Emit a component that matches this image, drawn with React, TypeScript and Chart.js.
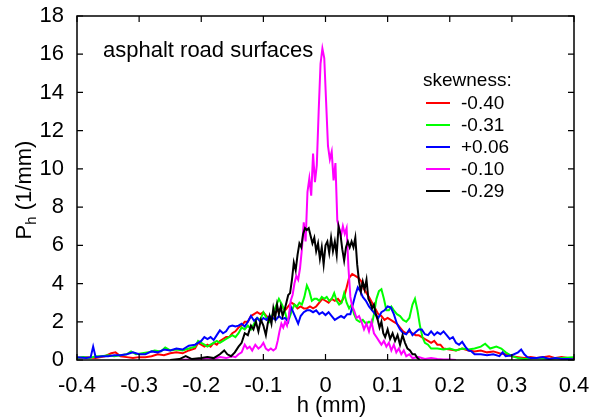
import React, { useEffect, useRef } from "react";
import { Chart, registerables } from "chart.js";

Chart.register(...registerables);

const FONT = '"Liberation Sans", Arial, Helvetica, sans-serif';

// Height distributions P_h(h) of five asphalt samples, as [h (mm), P_h (1/mm)] pairs.
const RED: [number, number][] = [
  [-0.4, 0.1], [-0.385, 0.15], [-0.37, 0.1], [-0.355, 0.2], [-0.345, 0.35], [-0.338, 0.4], [-0.33, 0.2],
  [-0.32, 0.15], [-0.31, 0.1], [-0.3, 0.15], [-0.29, 0.15], [-0.28, 0.2], [-0.27, 0.3], [-0.26, 0.25],
  [-0.25, 0.35], [-0.24, 0.4], [-0.23, 0.35], [-0.22, 0.5], [-0.21, 0.6], [-0.205, 0.9], [-0.2, 0.8],
  [-0.195, 0.7], [-0.19, 0.8], [-0.185, 0.7], [-0.18, 0.9], [-0.175, 0.8], [-0.17, 1.0], [-0.165, 1.1],
  [-0.16, 1.2], [-0.155, 1.2], [-0.15, 1.4], [-0.145, 1.5], [-0.14, 1.7], [-0.135, 1.8], [-0.13, 2.0],
  [-0.125, 2.0], [-0.12, 2.3], [-0.115, 2.4], [-0.11, 2.5], [-0.105, 2.4], [-0.1, 2.5], [-0.095, 2.3],
  [-0.09, 2.2], [-0.085, 2.3], [-0.08, 2.5], [-0.075, 2.6], [-0.07, 2.8], [-0.065, 2.6], [-0.06, 2.8],
  [-0.055, 3.0], [-0.05, 2.9], [-0.045, 2.7], [-0.04, 2.8], [-0.035, 2.7], [-0.03, 2.7], [-0.025, 2.8],
  [-0.02, 2.7], [-0.015, 2.8], [-0.01, 3.0], [-0.005, 3.2], [0, 3.1], [0.005, 3.0], [0.01, 3.2],
  [0.015, 3.1], [0.02, 3.2], [0.025, 3.0], [0.03, 3.3], [0.034, 3.8], [0.038, 4.3], [0.043, 4.5],
  [0.048, 4.4], [0.053, 4.3], [0.058, 4.1], [0.062, 3.7], [0.066, 3.5], [0.07, 3.3], [0.075, 3.0],
  [0.08, 2.7], [0.085, 2.4], [0.09, 2.3], [0.095, 2.1], [0.1, 2.2], [0.105, 2.1], [0.11, 2.0],
  [0.115, 1.9], [0.12, 1.7], [0.125, 1.5], [0.13, 1.4], [0.135, 1.5], [0.14, 1.4], [0.145, 1.3],
  [0.15, 1.3], [0.155, 1.2], [0.16, 1.1], [0.165, 1.0], [0.17, 0.9], [0.175, 1.0], [0.18, 0.8],
  [0.185, 0.8], [0.19, 0.6], [0.2, 0.55], [0.21, 0.5], [0.22, 0.6], [0.23, 0.5], [0.24, 0.45],
  [0.25, 0.5], [0.26, 0.4], [0.27, 0.45], [0.28, 0.35], [0.29, 0.3], [0.3, 0.2], [0.31, 0.15],
  [0.32, 0.1], [0.33, 0.15], [0.34, 0.1], [0.35, 0.15], [0.36, 0.2], [0.37, 0.1], [0.38, 0.15],
  [0.39, 0.1], [0.4, 0.05],
];

const GREEN: [number, number][] = [
  [-0.4, 0.1], [-0.39, 0.15], [-0.38, 0.1], [-0.37, 0.2], [-0.36, 0.2], [-0.35, 0.25], [-0.34, 0.2],
  [-0.33, 0.25], [-0.32, 0.3], [-0.313, 0.45], [-0.305, 0.3], [-0.295, 0.35], [-0.285, 0.4],
  [-0.275, 0.5], [-0.265, 0.45], [-0.258, 0.65], [-0.25, 0.5], [-0.24, 0.55], [-0.23, 0.5],
  [-0.22, 0.6], [-0.21, 0.7], [-0.205, 1.0], [-0.2, 0.9], [-0.195, 0.8], [-0.19, 0.7], [-0.185, 0.8],
  [-0.18, 0.9], [-0.175, 1.0], [-0.17, 0.9], [-0.165, 1.0], [-0.16, 1.1], [-0.155, 1.2], [-0.15, 1.3],
  [-0.145, 1.2], [-0.14, 1.4], [-0.135, 1.7], [-0.13, 1.6], [-0.125, 1.8], [-0.12, 1.6], [-0.115, 1.9],
  [-0.11, 2.2], [-0.105, 2.1], [-0.1, 2.5], [-0.095, 2.2], [-0.09, 2.0], [-0.085, 2.4], [-0.08, 2.8],
  [-0.075, 3.2], [-0.07, 2.9], [-0.065, 2.5], [-0.062, 2.1], [-0.058, 2.2], [-0.054, 2.6], [-0.05, 2.9],
  [-0.046, 2.8], [-0.042, 3.0], [-0.038, 2.9], [-0.034, 3.3], [-0.03, 3.9], [-0.026, 3.6], [-0.022, 3.1],
  [-0.018, 3.2], [-0.014, 3.2], [-0.01, 3.1], [-0.006, 3.3], [-0.002, 3.2], [0.002, 3.3], [0.006, 3.1],
  [0.01, 3.2], [0.014, 3.5], [0.018, 3.1], [0.022, 2.9], [0.026, 3.0], [0.03, 3.5], [0.034, 3.0],
  [0.038, 2.7], [0.042, 2.9], [0.046, 2.4], [0.05, 2.1], [0.055, 2.0], [0.06, 2.1], [0.065, 1.9],
  [0.07, 2.0], [0.075, 1.9], [0.078, 2.4], [0.082, 3.2], [0.086, 3.6], [0.09, 3.7], [0.094, 3.2],
  [0.098, 2.6], [0.102, 2.6], [0.106, 2.8], [0.11, 2.6], [0.115, 2.4], [0.12, 2.3], [0.125, 2.1],
  [0.13, 2.0], [0.135, 2.2], [0.14, 2.9], [0.144, 3.2], [0.148, 2.6], [0.152, 1.8], [0.156, 1.2],
  [0.16, 0.9], [0.165, 0.8], [0.17, 0.6], [0.18, 0.6], [0.19, 0.55], [0.2, 0.6], [0.21, 0.5],
  [0.22, 0.6], [0.23, 0.55], [0.24, 0.6], [0.25, 0.7], [0.257, 0.85], [0.265, 0.6], [0.275, 0.7],
  [0.283, 0.6], [0.29, 0.4], [0.3, 0.2], [0.31, 0.1], [0.32, 0.05], [0.34, 0.1], [0.36, 0.05],
  [0.38, 0.1], [0.4, 0.15],
];

const BLUE: [number, number][] = [
  [-0.4, 0.15], [-0.385, 0.1], [-0.378, 0.15], [-0.374, 0.7], [-0.37, 0.15], [-0.36, 0.2], [-0.35, 0.2],
  [-0.34, 0.25], [-0.33, 0.25], [-0.32, 0.3], [-0.31, 0.4], [-0.3, 0.3], [-0.29, 0.3], [-0.28, 0.45],
  [-0.27, 0.4], [-0.26, 0.55], [-0.25, 0.5], [-0.24, 0.6], [-0.23, 0.55], [-0.22, 0.75], [-0.21, 0.8],
  [-0.2, 1.0], [-0.195, 1.2], [-0.19, 1.1], [-0.185, 1.2], [-0.18, 1.05], [-0.175, 1.3], [-0.17, 1.55],
  [-0.165, 1.4], [-0.16, 1.5], [-0.155, 1.75], [-0.15, 1.8], [-0.145, 1.75], [-0.14, 1.8], [-0.135, 1.9],
  [-0.13, 1.75], [-0.125, 2.0], [-0.12, 2.3], [-0.115, 2.05], [-0.11, 2.2], [-0.105, 2.0], [-0.1, 2.2],
  [-0.095, 2.1], [-0.09, 2.3], [-0.085, 2.2], [-0.08, 2.1], [-0.075, 2.3], [-0.07, 2.15], [-0.065, 2.2],
  [-0.06, 2.0], [-0.056, 2.8], [-0.052, 2.5], [-0.048, 2.2], [-0.044, 1.9], [-0.04, 2.3], [-0.035, 2.5],
  [-0.03, 2.6], [-0.025, 2.6], [-0.02, 2.5], [-0.015, 2.6], [-0.01, 2.4], [-0.005, 2.5], [0, 2.35],
  [0.005, 2.5], [0.01, 2.3], [0.015, 2.1], [0.02, 2.2], [0.025, 2.3], [0.03, 2.2], [0.035, 2.4],
  [0.04, 2.4], [0.044, 2.9], [0.048, 3.4], [0.052, 3.8], [0.056, 3.6], [0.06, 3.3], [0.065, 3.1],
  [0.07, 2.8], [0.075, 2.6], [0.08, 2.4], [0.085, 2.2], [0.09, 2.5], [0.095, 2.6], [0.1, 2.8],
  [0.105, 2.75], [0.11, 2.4], [0.115, 1.9], [0.12, 1.6], [0.125, 1.4], [0.13, 1.35], [0.135, 1.6],
  [0.14, 1.3], [0.145, 1.45], [0.15, 1.6], [0.155, 1.6], [0.16, 1.35], [0.165, 1.3], [0.17, 1.5],
  [0.175, 1.3], [0.18, 1.45], [0.185, 1.35], [0.19, 1.5], [0.195, 1.3], [0.2, 1.1], [0.205, 1.2],
  [0.21, 0.9], [0.215, 0.8], [0.22, 0.95], [0.225, 0.7], [0.23, 0.5], [0.235, 0.45], [0.24, 0.3],
  [0.25, 0.3], [0.26, 0.25], [0.27, 0.3], [0.28, 0.2], [0.285, 0.4], [0.29, 0.2], [0.3, 0.25],
  [0.31, 0.4], [0.315, 0.55], [0.32, 0.3], [0.325, 0.15], [0.33, 0.1], [0.34, 0.1], [0.35, 0.15],
  [0.36, 0.05], [0.37, 0.1], [0.38, 0.05], [0.39, 0.05], [0.4, 0.02],
];

const MAGENTA: [number, number][] = [
  [-0.24, 0], [-0.22, 0.02], [-0.2, 0.05], [-0.19, 0.1], [-0.18, 0.05], [-0.17, 0.15], [-0.16, 0.1],
  [-0.15, 0.2], [-0.145, 0.15], [-0.14, 0.3], [-0.135, 0.4], [-0.13, 0.8], [-0.126, 0.6], [-0.122, 0.7],
  [-0.118, 0.5], [-0.113, 0.8], [-0.108, 0.6], [-0.104, 0.7], [-0.1, 0.9], [-0.096, 0.6], [-0.092, 0.5],
  [-0.088, 0.6], [-0.084, 0.5], [-0.08, 0.6], [-0.077, 1.0], [-0.074, 1.5], [-0.071, 1.9], [-0.068, 1.7],
  [-0.065, 2.0], [-0.062, 1.8], [-0.059, 2.3], [-0.056, 3.1], [-0.053, 3.4], [-0.05, 4.0], [-0.047, 4.4],
  [-0.044, 4.2], [-0.041, 4.8], [-0.038, 5.8], [-0.035, 7.2], [-0.032, 6.2], [-0.029, 8.8], [-0.026, 9.5],
  [-0.023, 8.6], [-0.02, 10.8], [-0.017, 9.3], [-0.014, 10.2], [-0.011, 13.0], [-0.008, 15.5],
  [-0.005, 16.3], [-0.002, 15.8], [0.001, 13.5], [0.004, 11.2], [0.007, 10.5], [0.01, 10.9],
  [0.013, 9.4], [0.016, 10.3], [0.019, 7.3], [0.022, 6.9], [0.025, 6.5], [0.028, 7.0], [0.031, 6.6],
  [0.034, 6.9], [0.037, 4.8], [0.04, 3.3], [0.043, 2.8], [0.046, 2.6], [0.05, 2.2], [0.054, 2.3],
  [0.058, 2.0], [0.062, 1.6], [0.066, 1.9], [0.07, 1.5], [0.074, 2.0], [0.078, 1.4], [0.082, 1.2],
  [0.086, 1.0], [0.09, 0.8], [0.094, 1.0], [0.098, 0.7], [0.102, 0.9], [0.106, 0.5], [0.11, 0.8],
  [0.114, 0.4], [0.118, 0.6], [0.122, 0.3], [0.126, 0.5], [0.13, 0.2], [0.135, 0.3], [0.14, 0.1],
  [0.15, 0.15], [0.16, 0.05], [0.17, 0.1], [0.18, 0.05], [0.19, 0.02], [0.2, 0.03], [0.21, 0],
];

const BLACK: [number, number][] = [
  [-0.25, 0], [-0.235, 0.05], [-0.225, 0.2], [-0.215, 0.05], [-0.2, 0.1], [-0.19, 0.15], [-0.18, 0.1],
  [-0.17, 0.3], [-0.163, 0.5], [-0.158, 0.3], [-0.152, 0.2], [-0.146, 0.4], [-0.14, 0.7], [-0.135, 0.9],
  [-0.13, 1.4], [-0.125, 1.3], [-0.12, 1.8], [-0.116, 1.6], [-0.112, 2.0], [-0.108, 1.5], [-0.104, 2.1],
  [-0.1, 1.8], [-0.096, 1.3], [-0.093, 1.9], [-0.09, 2.3], [-0.087, 1.9], [-0.084, 2.7], [-0.081, 2.2],
  [-0.078, 2.9], [-0.075, 2.4], [-0.072, 2.8], [-0.069, 2.3], [-0.066, 2.6], [-0.063, 3.0], [-0.06, 3.4],
  [-0.057, 3.5], [-0.054, 4.2], [-0.051, 5.1], [-0.048, 4.7], [-0.045, 5.5], [-0.042, 6.1],
  [-0.039, 5.9], [-0.036, 6.6], [-0.033, 6.9], [-0.03, 6.8], [-0.027, 6.9], [-0.024, 6.5], [-0.021, 6.1],
  [-0.018, 6.4], [-0.015, 5.7], [-0.012, 6.1], [-0.009, 5.3], [-0.006, 5.9], [-0.003, 5.0], [0, 6.0],
  [0.003, 6.2], [0.006, 5.6], [0.009, 6.4], [0.012, 5.7], [0.015, 6.2], [0.018, 5.5], [0.021, 7.0],
  [0.024, 6.6], [0.027, 5.8], [0.03, 5.2], [0.033, 5.9], [0.036, 6.2], [0.039, 5.9], [0.042, 6.2],
  [0.045, 5.9], [0.048, 6.4], [0.051, 5.0], [0.054, 4.1], [0.057, 3.6], [0.06, 4.1], [0.063, 3.7],
  [0.066, 4.2], [0.069, 3.2], [0.072, 3.0], [0.075, 2.7], [0.078, 2.9], [0.081, 2.4], [0.084, 2.1],
  [0.087, 1.7], [0.09, 2.0], [0.093, 1.4], [0.096, 1.2], [0.1, 1.6], [0.104, 1.1], [0.108, 1.4],
  [0.112, 1.0], [0.116, 1.3], [0.12, 0.8], [0.124, 1.3], [0.128, 0.9], [0.132, 0.6], [0.136, 0.5],
  [0.14, 0.3], [0.144, 0.3], [0.148, 0.1], [0.152, 0],
];

const SKEWNESS = ["-0.40", "-0.31", "+0.06", "-0.10", "-0.29"];
const COLORS = ["#ff0000", "#00ff00", "#0000ff", "#ff00ff", "#000000"];
const SERIES = [RED, GREEN, BLUE, MAGENTA, BLACK];

const X_TICKS = [-0.4, -0.3, -0.2, -0.1, 0, 0.1, 0.2, 0.3, 0.4];
const Y_TICKS = [0, 2, 4, 6, 8, 10, 12, 14, 16, 18];

const LEGEND_TITLE = "skewness:";
const NOTE = "asphalt road surfaces";

// Frame with inward ticks on all four sides, axis titles, note and legend.
const decorations = {
  id: "decorations",
  afterDraw(chart: any) {
    const { ctx, chartArea: a, scales } = chart;
    const xs = scales.x;
    const ys = scales.y;
    ctx.save();
    ctx.strokeStyle = "#000";
    ctx.lineWidth = 1.5;
    ctx.strokeRect(a.left, a.top, a.right - a.left, a.bottom - a.top);
    ctx.lineWidth = 1.2;
    const tl = 6;
    ctx.beginPath();
    for (const v of X_TICKS) {
      const px = xs.getPixelForValue(v);
      ctx.moveTo(px, a.bottom);
      ctx.lineTo(px, a.bottom - tl);
      ctx.moveTo(px, a.top);
      ctx.lineTo(px, a.top + tl);
    }
    for (const v of Y_TICKS) {
      const py = ys.getPixelForValue(v);
      ctx.moveTo(a.left, py);
      ctx.lineTo(a.left + tl, py);
      ctx.moveTo(a.right, py);
      ctx.lineTo(a.right - tl, py);
    }
    ctx.stroke();

    ctx.fillStyle = "#000";
    // x title
    ctx.font = `22px ${FONT}`;
    ctx.textAlign = "center";
    ctx.textBaseline = "middle";
    ctx.fillText("h (mm)", (a.left + a.right) / 2 + 6, 406);

    // y title: P with subscript h
    ctx.save();
    ctx.translate(31, (a.top + a.bottom) / 2 + 2);
    ctx.rotate(-Math.PI / 2);
    ctx.textAlign = "left";
    ctx.textBaseline = "alphabetic";
    ctx.font = `22px ${FONT}`;
    const wP = ctx.measureText("P").width;
    const rest = " (1/mm)";
    const wRest = ctx.measureText(rest).width;
    ctx.font = `15px ${FONT}`;
    const wSub = ctx.measureText("h").width;
    const total = wP + wSub + wRest;
    let cx = -total / 2;
    ctx.font = `22px ${FONT}`;
    ctx.fillText("P", cx, 0);
    cx += wP;
    ctx.font = `15px ${FONT}`;
    ctx.fillText("h", cx, 5);
    cx += wSub;
    ctx.font = `22px ${FONT}`;
    ctx.fillText(rest, cx, 0);
    ctx.restore();

    // note
    ctx.font = `22px ${FONT}`;
    ctx.textAlign = "left";
    ctx.textBaseline = "alphabetic";
    ctx.fillText(NOTE, 103, 57);

    // legend
    ctx.font = `19px ${FONT}`;
    ctx.textBaseline = "middle";
    ctx.fillText(LEGEND_TITLE, 423, 81);
    SKEWNESS.forEach((label, i) => {
      const y = 103 + i * 22;
      ctx.strokeStyle = COLORS[i];
      ctx.lineWidth = 2;
      ctx.beginPath();
      ctx.moveTo(426, y);
      ctx.lineTo(450, y);
      ctx.stroke();
      ctx.fillStyle = "#000";
      ctx.fillText(label, 461, y + 1);
    });
    ctx.restore();
  },
};

export default function App() {
  const ref = useRef<HTMLCanvasElement | null>(null);

  useEffect(() => {
    const canvas = ref.current;
    if (!canvas) return;
    const chart = new Chart(canvas, {
      type: "line",
      data: {
        datasets: SERIES.map((s, i) => ({
          label: SKEWNESS[i],
          data: s.map(([x, y]) => ({ x, y })),
          borderColor: COLORS[i],
          backgroundColor: COLORS[i],
          borderWidth: 2,
          pointRadius: 0,
          tension: 0,
          fill: false,
          order: SERIES.length - i,
        })),
      },
      options: {
        responsive: false,
        animation: false,
        events: [],
        layout: { padding: { top: 16, right: 26, left: 0, bottom: 0 } },
        plugins: { legend: { display: false }, tooltip: { enabled: false }, title: { display: false } },
        scales: {
          x: {
            type: "linear",
            min: -0.4,
            max: 0.4,
            grid: { display: false, drawTicks: false },
            border: { display: false },
            afterFit: (s: any) => {
              s.height = 60;
              s.paddingLeft = 0;
              s.paddingRight = 0;
            },
            afterBuildTicks: (s: any) => {
              s.ticks = X_TICKS.map((v) => ({ value: v }));
            },
            ticks: {
              autoSkip: false,
              maxRotation: 0,
              padding: 13,
              color: "#000",
              font: { family: FONT, size: 22 },
              callback: (v: any) => (Math.abs(Number(v)) < 1e-9 ? "0" : Number(v).toFixed(1)),
            },
          },
          y: {
            type: "linear",
            min: 0,
            max: 18,
            grid: { display: false, drawTicks: false },
            border: { display: false },
            afterFit: (s: any) => {
              s.width = 77;
              s.paddingTop = 0;
              s.paddingBottom = 0;
            },
            afterBuildTicks: (s: any) => {
              s.ticks = Y_TICKS.map((v) => ({ value: v }));
            },
            ticks: {
              autoSkip: false,
              padding: 13,
              color: "#000",
              font: { family: FONT, size: 22 },
              callback: (v: any) => String(v),
            },
          },
        },
      },
      plugins: [decorations],
    });
    return () => chart.destroy();
  }, []);

  return (
    <div style={{ position: "fixed", left: 0, top: 0, width: 600, height: 420, background: "#fff" }}>
      <canvas ref={ref} width={600} height={420} />
    </div>
  );
}
